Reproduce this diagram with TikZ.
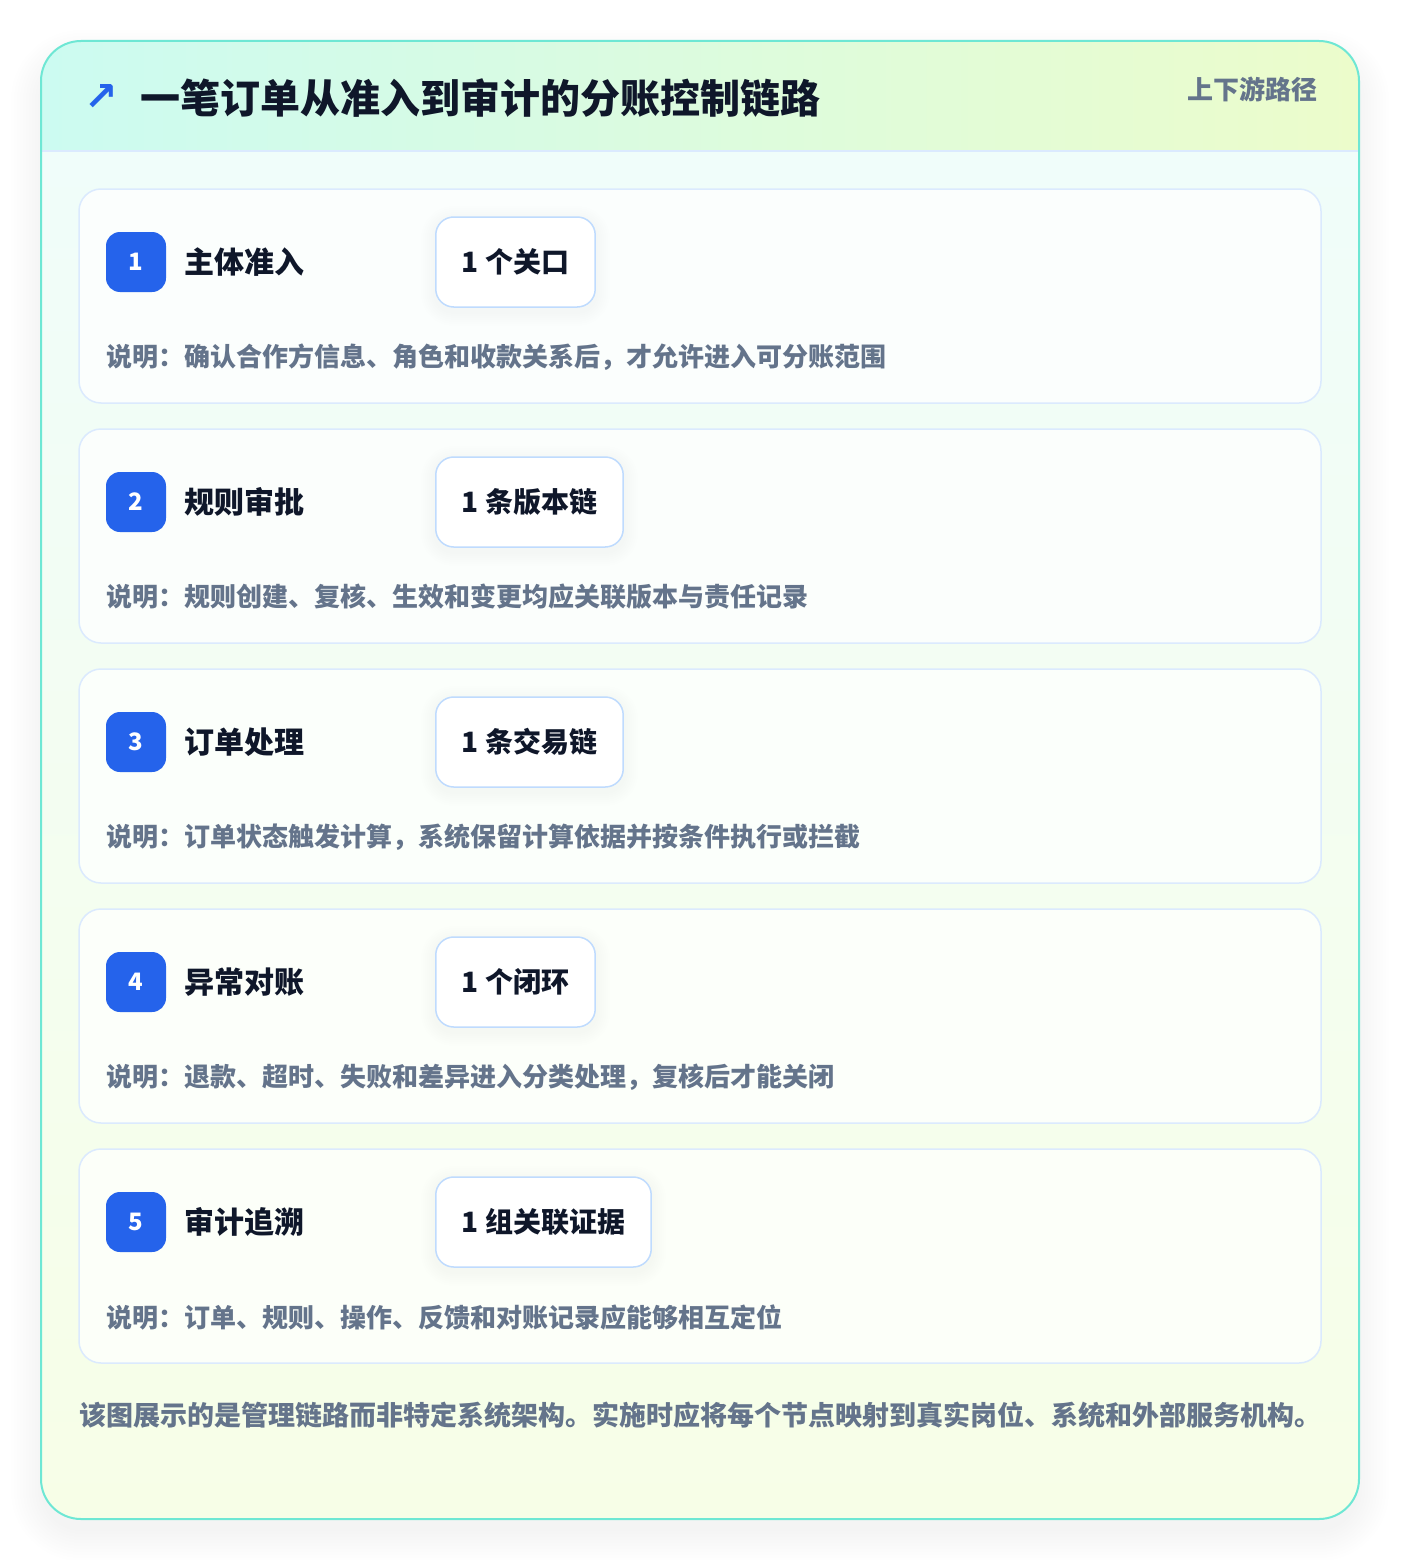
\documentclass[tikz,border=0pt]{standalone}
\usepackage{fontspec}
\setmainfont{Noto Sans CJK SC}
\newfontfamily\symfont{DejaVu Sans}
\usetikzlibrary{positioning,calc}
\definecolor{flowteal}{HTML}{6EE7D4}
\definecolor{flowmint}{HTML}{CCFBF1}
\definecolor{flowlime}{HTML}{ECFCCB}
\definecolor{flowbodytop}{HTML}{F0FDFA}
\definecolor{flowbodybot}{HTML}{F7FEE7}
\definecolor{flowline}{HTML}{DBEAFE}
\definecolor{flowchip}{HTML}{BFDBFE}
\definecolor{flowblue}{HTML}{2563EB}
\definecolor{flowink}{HTML}{0F172A}
\definecolor{flowslate}{HTML}{64748B}
\pgfdeclarelayer{back}
\pgfdeclarelayer{mid}
\pgfsetlayers{back,mid,main}

\begin{document}
\begin{tikzpicture}[
    x=1pt, y=-1pt,
    card/.style={draw=flowline, line width=1.5pt, rounded corners=22pt, minimum width=1242pt, minimum height=214pt, inner sep=0pt},
    badge/.style={fill=flowblue, rounded corners=14pt, minimum size=60pt, inner sep=0pt, text=white, font=\bfseries\fontsize{24}{24}\selectfont},
    stage/.style={text=flowink, inner sep=0pt, font=\bfseries\fontsize{30}{30}\selectfont},
    chip/.style={draw=flowchip, line width=1.5pt, fill=white, rounded corners=18pt, minimum height=90pt, inner xsep=26pt, text=flowink, font=\bfseries\fontsize{28}{28}\selectfont},
    note/.style={text=flowslate, inner sep=0pt, font=\bfseries\fontsize{26}{26}\selectfont}
]
    \useasboundingbox (0,0) rectangle (1400,1560);

    \begin{pgfonlayer}{back}
    \fill[white] (0,0) rectangle (1400,1560);
    % Shadow of the outer panel
    \foreach \s in {0,3,...,30}
        \fill[black, opacity=0.0035, rounded corners=40pt+\s] (41-\s,60-\s) rectangle (1359+\s,1531+\s);
    % Outer panel
    \begin{scope}
        \clip[rounded corners=40pt] (41,41) rectangle (1359,1519);
        \shade[top color=flowbodytop, bottom color=flowbodybot] (41,151) rectangle (1359,1519);
        \shade[left color=flowmint, right color=flowlime] (41,41) rectangle (1359,151);
        \draw[flowline, line width=1.5pt] (41,151) -- (1359,151);
    \end{scope}
    \draw[flowteal, line width=2pt, rounded corners=40pt] (41,41) rectangle (1359,1519);
    \end{pgfonlayer}

    % Header
    \node[anchor=west, inner sep=0pt, text=flowblue, font=\symfont\bfseries\fontsize{40}{40}\selectfont] (icon) at (84,98) {↗};
    \node[anchor=west, inner sep=0pt, text=flowink, font=\bfseries\fontsize{40}{40}\selectfont] (heading) at (140,98) {一笔订单从准入到审计的分账控制链路};
    \node[anchor=east, inner sep=0pt, text=flowslate, font=\bfseries\fontsize{26}{26}\selectfont] (route) at (1318,89) {上下游路径};

    % Stages
    \foreach \i/\name/\tag/\desc in {
        1/主体准入/1 个关口/说明：确认合作方信息、角色和收款关系后，才允许进入可分账范围,
        2/规则审批/1 条版本链/说明：规则创建、复核、生效和变更均应关联版本与责任记录,
        3/订单处理/1 条交易链/说明：订单状态触发计算，系统保留计算依据并按条件执行或拦截,
        4/异常对账/1 个闭环/说明：退款、超时、失败和差异进入分类处理，复核后才能关闭,
        5/审计追溯/1 组关联证据/说明：订单、规则、操作、反馈和对账记录应能够相互定位}
    {
        \pgfmathsetmacro{\top}{189+240*(\i-1)}
        \pgfmathsetmacro{\mix}{int(95-20*(\i-1))}
        \colorlet{cardtint}{flowbodytop!\mix!flowbodybot}
        \begin{pgfonlayer}{back}
            \node[card, fill=white!70!cardtint] (card\i) at (700,\top+107) {};
        \end{pgfonlayer}
        \node[badge] (badge\i) at (136,\top+73) {\i};
        \node[stage, right=18pt of badge\i] (stage\i) {\name};
        \node[chip, anchor=west] (chip\i) at (435,\top+73) {\tag};
        \begin{pgfonlayer}{mid}
            \foreach \s in {2,4,...,14}
                \fill[black, opacity=0.004, rounded corners=18pt+\s]
                    ($(chip\i.north west)+(-\s,4-\s)$) rectangle ($(chip\i.south east)+(\s,4+\s)$);
        \end{pgfonlayer}
        \node[note, anchor=west] (note\i) at (106,\top+168) {\desc};
    }

    % Footer
    \node[anchor=west, inner sep=0pt, text=flowslate, font=\bfseries\fontsize{27}{27}\selectfont] (footer) at (79,1415) {该图展示的是管理链路而非特定系统架构。实施时应将每个节点映射到真实岗位、系统和外部服务机构。};
\end{tikzpicture}
\end{document}
